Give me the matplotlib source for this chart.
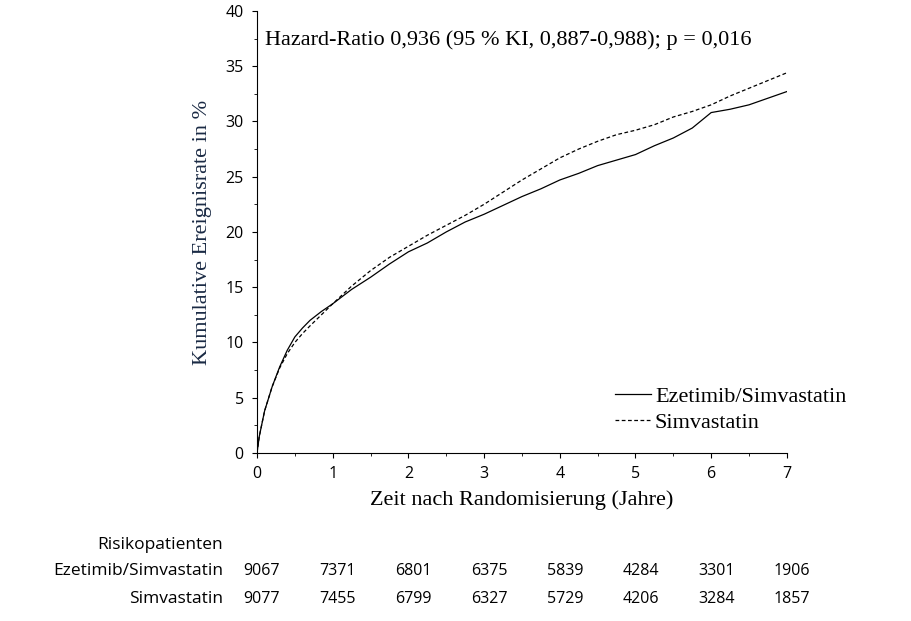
import matplotlib.pyplot as plt
from matplotlib.ticker import MultipleLocator

years = [0, 0.03, 0.1, 0.2, 0.3, 0.4, 0.5, 0.6, 0.7, 0.85, 1, 1.25, 1.5, 1.75, 2, 2.25, 2.5, 2.75, 3, 3.25, 3.5, 3.75, 4, 4.25, 4.5, 4.75, 5, 5.25, 5.5, 5.75, 6, 6.25, 6.5, 6.75, 7]
ezetimib = [0, 1.5, 3.8, 6.0, 7.8, 9.3, 10.5, 11.3, 12.0, 12.8, 13.5, 14.8, 15.9, 17.1, 18.2, 19.0, 20.0, 20.9, 21.6, 22.4, 23.2, 23.9, 24.7, 25.3, 26.0, 26.5, 27.0, 27.8, 28.5, 29.4, 30.8, 31.1, 31.5, 32.1, 32.7]
simva = [0, 1.5, 3.8, 6.0, 7.7, 9.0, 10.0, 10.8, 11.5, 12.5, 13.5, 15.1, 16.5, 17.7, 18.7, 19.7, 20.6, 21.5, 22.5, 23.6, 24.7, 25.7, 26.7, 27.5, 28.2, 28.8, 29.2, 29.7, 30.4, 30.9, 31.5, 32.3, 33.0, 33.7, 34.4]

risk_eze = [9067, 7371, 6801, 6375, 5839, 4284, 3301, 1906]
risk_sim = [9077, 7455, 6799, 6327, 5729, 4206, 3284, 1857]

serif = 'Liberation Serif'
sans = 'Open Sans'

fig = plt.figure(figsize=(9.12, 6.21), dpi=100)
ax = fig.add_axes([0.2818, 0.2705, 0.581, 0.712])
ax.plot(years, ezetimib, color='black', lw=0.9, label='Ezetimib/Simvastatin')
ax.plot(years, simva, color='black', lw=0.9, ls=(0, (3, 2)), label='Simvastatin')
ax.set_xlim(0, 7)
ax.set_ylim(0, 40)
ax.xaxis.set_major_locator(MultipleLocator(1))
ax.xaxis.set_minor_locator(MultipleLocator(0.5))
ax.yaxis.set_major_locator(MultipleLocator(5))
ax.yaxis.set_minor_locator(MultipleLocator(2.5))
for s in ['top', 'right']:
    ax.spines[s].set_visible(False)
ax.tick_params(labelsize=11.5, pad=6)
for t in ax.get_xticklabels() + ax.get_yticklabels():
    t.set_family(sans)
ax.set_xlabel('Zeit nach Randomisierung (Jahre)', family=serif, fontsize=16, labelpad=6)
ax.set_ylabel('Kumulative Ereignisrate in %', family=serif, fontsize=16, color='#1a2a44', labelpad=10)
ax.text(0.1, 36.9, 'Hazard-Ratio 0,936 (95 % KI, 0,887-0,988); p = 0,016', family=serif, fontsize=16)
ax.legend(loc='lower right', bbox_to_anchor=(1.15, 0.0), frameon=False,
          prop={'family': serif, 'size': 16}, handlelength=1.6, handletextpad=0.2, labelspacing=0.25)

fig.text(223/912, 1 - 545/621, 'Risikopatienten', ha='right', va='center', family=sans, fontsize=12.5)
fig.text(223/912, 1 - 571/621, 'Ezetimib/Simvastatin', ha='right', va='center', family=sans, fontsize=12.5)
fig.text(223/912, 1 - 599/621, 'Simvastatin', ha='right', va='center', family=sans, fontsize=12.5)
for i in range(8):
    x = (262 + i * 75.7) / 912
    fig.text(x, 1 - 571/621, str(risk_eze[i]), ha='center', va='center', family=sans, fontsize=11.5)
    fig.text(x, 1 - 599/621, str(risk_sim[i]), ha='center', va='center', family=sans, fontsize=11.5)

fig.savefig('out.png', dpi=100)
